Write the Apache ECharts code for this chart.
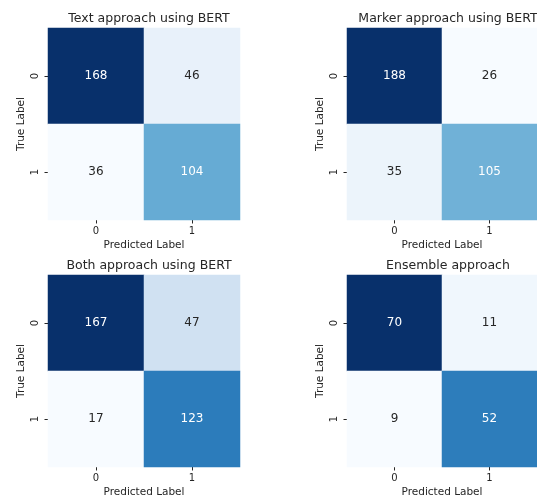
<!DOCTYPE html>
<html><head><meta charset="utf-8">
<script src="https://cdn.jsdelivr.net/npm/echarts@6/dist/echarts.min.js"></script>
<style>html,body{margin:0;padding:0;background:#fff}#c{width:537px;height:499px}</style>
</head><body><div id="c"></div>
<script>
var predictedLabels = ['0', '1'];
var trueLabels = ['0', '1'];
var titles = ['Text approach using BERT', 'Marker approach using BERT', 'Both approach using BERT', 'Ensemble approach'];
// matrices: [[TN, FP],[FN, TP]] rows = true label
var textBert = [[168, 46], [36, 104]];
var markerBert = [[188, 26], [35, 105]];
var bothBert = [[167, 47], [17, 123]];
var ensemble = [[70, 11], [9, 52]];
var matrices = [textBert, markerBert, bothBert, ensemble];

var blues = ['#f7fbff','#deebf7','#c6dbef','#9ecae1','#6baed6','#4292c6','#2171b5','#08519c','#08306b'];
var font = 'DejaVu Sans';
var gridPos = [[48, 28], [347, 28], [48, 275], [347, 275]];
var size = 192;

var option = {animation: false, backgroundColor: '#fff', title: [], grid: [], xAxis: [], yAxis: [], visualMap: [], series: []};
matrices.forEach(function (m, i) {
  var flat = [m[0][0], m[0][1], m[1][0], m[1][1]];
  var mn = Math.min.apply(null, flat), mx = Math.max.apply(null, flat);
  option.title.push({text: titles[i], left: gridPos[i][0] + size / 2, top: gridPos[i][1] - 21, textAlign: 'center',
    textStyle: {fontFamily: font, fontSize: 12.5, fontWeight: 'normal', color: '#262626'}});
  option.grid.push({left: gridPos[i][0], top: gridPos[i][1], width: size, height: size});
  option.xAxis.push({type: 'category', gridIndex: i, data: predictedLabels, name: 'Predicted Label', nameLocation: 'middle', nameGap: 20,
    nameTextStyle: {fontFamily: font, fontSize: 10.5, color: '#262626'},
    axisLine: {show: false}, axisTick: {show: true, alignWithLabel: true, length: 3.5, lineStyle: {color: '#262626'}},
    axisLabel: {fontFamily: font, fontSize: 10, color: '#262626', margin: 6}, splitLine: {show: false}});
  option.yAxis.push({type: 'category', gridIndex: i, data: trueLabels, inverse: true, name: 'True Label', nameLocation: 'middle', nameGap: 21,
    nameTextStyle: {fontFamily: font, fontSize: 10.5, color: '#262626'},
    axisLine: {show: false}, axisTick: {show: true, alignWithLabel: true, length: 3.5, lineStyle: {color: '#262626'}},
    axisLabel: {fontFamily: font, fontSize: 10, color: '#262626', rotate: 90, margin: 8}, splitLine: {show: false}});
  option.visualMap.push({show: false, seriesIndex: i, min: mn, max: mx, dimension: 2, inRange: {color: blues}});
  var data = [];
  for (var r = 0; r < 2; r++) for (var c = 0; c < 2; c++) {
    var v = m[r][c];
    var t = (v - mn) / (mx - mn);
    data.push({value: [c, r, v], label: {color: t > 0.45 ? '#ffffff' : '#262626'}});
  }
  option.series.push({type: 'heatmap', xAxisIndex: i, yAxisIndex: i, data: data,
    itemStyle: {borderWidth: 0}, emphasis: {disabled: true},
    label: {show: true, fontFamily: font, fontSize: 12, formatter: function (p) { return p.value[2]; }}});
});
var chart = echarts.init(document.getElementById('c'), null, {renderer: 'canvas'});
chart.setOption(option);
</script></body></html>
